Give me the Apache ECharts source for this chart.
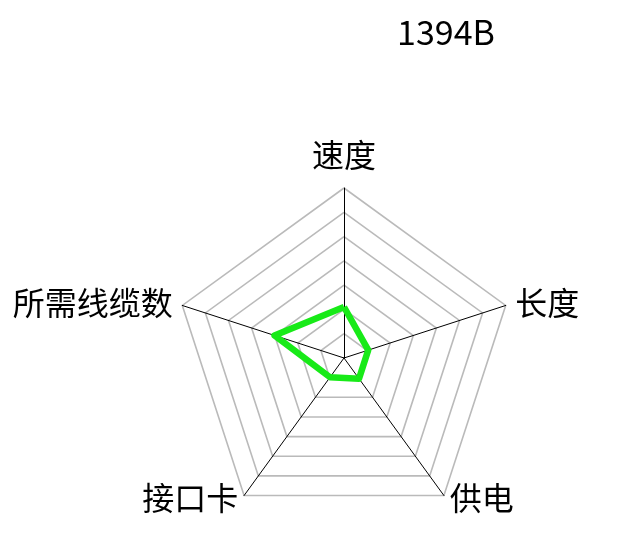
<!DOCTYPE html>
<html><head><meta charset="utf-8">
<script src="https://cdn.jsdelivr.net/npm/echarts@6/dist/echarts.min.js"></script>
<style>html,body{margin:0;padding:0;background:#fff}#c{width:618px;height:545px}</style>
</head><body><div id="c"></div>
<script>
var titleText = '1394B';
// listed clockwise from the top
var indicators = ['速度', '长度', '供电', '接口卡', '所需线缆数'];
var maxValue = 100;
var values = [30, 15, 15, 14, 43];

// ECharts places radar indicators counter-clockwise; reorder so they run clockwise
function clockwise(arr) { return [arr[0]].concat(arr.slice(1).reverse()); }

var nameFont = { fontSize: 32, fontFamily: 'Noto Sans CJK SC', color: '#000' };
var chart = echarts.init(document.getElementById('c'));
chart.setOption({
  animation: false,
  backgroundColor: '#fff',
  title: {
    text: titleText, left: 441, top: 10, textAlign: 'center',
    textStyle: { fontSize: 34, fontWeight: 'normal', color: '#000', fontFamily: 'Noto Sans CJK SC' }
  },
  radar: {
    center: [344, 358],
    radius: 170,
    startAngle: 90,
    splitNumber: 7,
    shape: 'polygon',
    nameGap: 10,
    axisName: {
      color: '#000', fontSize: 32, fontFamily: 'Noto Sans CJK SC', verticalAlign: 'middle',
      formatter: function (name) {
        var i = indicators.indexOf(name);
        if (i === 0) return '{t|' + name + '}';
        if (i === 2 || i === 3) return '{b|' + name + '}';
        return name;
      },
      rich: {
        t: Object.assign({ padding: [0, 0, 46, 0] }, nameFont),
        b: Object.assign({ padding: [0, 0, 12, 0] }, nameFont)
      }
    },
    indicator: clockwise(indicators).map(function (n) { return { name: n, max: maxValue, min: 0 }; }),
    axisLine: { lineStyle: { color: '#000', width: 1 } },
    splitLine: { lineStyle: { color: '#bababa', width: 1.6 } },
    splitArea: { show: false },
    axisTick: { show: false },
    axisLabel: { show: false }
  },
  series: [{
    type: 'radar',
    symbol: 'none',
    lineStyle: { color: '#18ea18', width: 6.5 },
    itemStyle: { color: '#18ea18' },
    data: [{ value: clockwise(values), name: titleText }]
  }]
});
</script></body></html>
